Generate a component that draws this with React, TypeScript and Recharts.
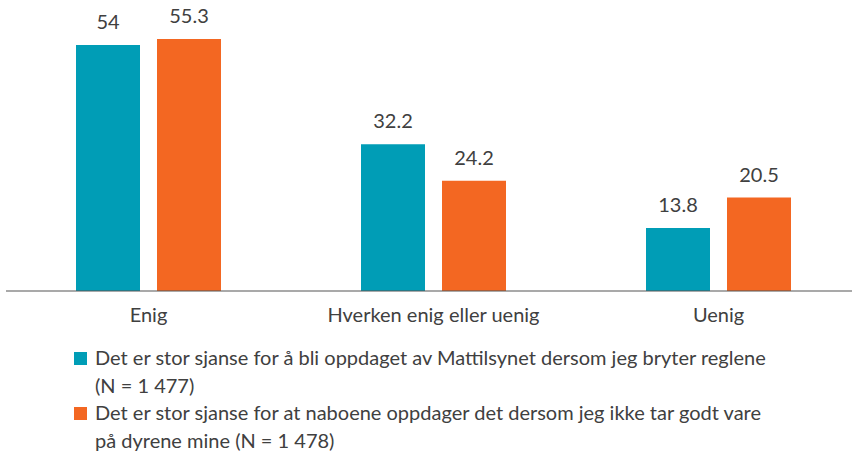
import * as React from "react";
import { BarChart, Bar, XAxis, YAxis, LabelList, Legend } from "recharts";

const CATEGORIES = ["Enig", "Hverken enig eller uenig", "Uenig"];
const MATTILSYNET = [54, 32.2, 13.8];
const NABOENE = [55.3, 24.2, 20.5];

const SERIES_NAMES = [
  "Det er stor sjanse for å bli oppdaget av Mattilsynet dersom jeg bryter reglene (N = 1 477)",
  "Det er stor sjanse for at naboene oppdager det dersom jeg ikke tar godt vare på dyrene mine (N = 1 478)",
];
// how the legend text breaks in the original
const LEGEND_LINES = [
  ["Det er stor sjanse for å bli oppdaget av Mattilsynet dersom jeg bryter reglene", "(N = 1 477)"],
  ["Det er stor sjanse for at naboene oppdager det dersom jeg ikke tar godt vare", "på dyrene mine (N = 1 478)"],
];

const TEAL = "#009DB6";
const ORANGE = "#F36722";
const FONT = "Lato, 'Open Sans', sans-serif";
const TEXT = "#404040";

const data = CATEGORIES.map((name, i) => ({
  name,
  a: MATTILSYNET[i],
  b: NABOENE[i],
}));

function ChartLegend() {
  const colors = [TEAL, ORANGE];
  return (
    <div style={{ fontFamily: FONT, fontSize: 20, lineHeight: "27.5px", color: TEXT }}>
      {LEGEND_LINES.map((lines, i) => (
        <div key={i} style={{ display: "flex", alignItems: "flex-start" }}>
          <span
            style={{
              width: 13,
              height: 13,
              marginTop: 7.5,
              marginRight: 8,
              background: colors[i],
              flexShrink: 0,
            }}
          />
          <div style={{ whiteSpace: "nowrap" }}>
            {lines.map((l, j) => (
              <div key={j}>{l}</div>
            ))}
          </div>
        </div>
      ))}
    </div>
  );
}

export default function App() {
  return (
    <div style={{ position: "fixed", left: 0, top: 0, width: 852, height: 455, overflow: "hidden", background: "#fff" }}>
      <BarChart
        width={861}
        height={455}
        data={data}
        margin={{ top: 17.6, right: 0, bottom: 0, left: 6 }}
        barGap={17}
        barSize={64}
      >
        <XAxis
          dataKey="name"
          height={164}
          tickLine={false}
          tickSize={0}
          tickMargin={17}
          axisLine={{ stroke: "#555", strokeWidth: 1.2 }}
          tick={{ fill: TEXT, fontSize: 20, fontFamily: FONT }}
          interval={0}
        />
        <YAxis hide domain={[0, 60]} />
        <Legend
          layout="vertical"
          align="center"
          verticalAlign="middle"
          content={() => <ChartLegend />}
          wrapperStyle={{ position: "absolute", top: 344, left: 74, width: 770 }}
        />
        <Bar dataKey="a" name={SERIES_NAMES[0]} fill={TEAL} isAnimationActive={false}>
          <LabelList dataKey="a" position="top" offset={16} fill={TEXT} fontSize={20} fontFamily={FONT} />
        </Bar>
        <Bar dataKey="b" name={SERIES_NAMES[1]} fill={ORANGE} isAnimationActive={false}>
          <LabelList dataKey="b" position="top" offset={16} fill={TEXT} fontSize={20} fontFamily={FONT} />
        </Bar>
      </BarChart>
    </div>
  );
}
